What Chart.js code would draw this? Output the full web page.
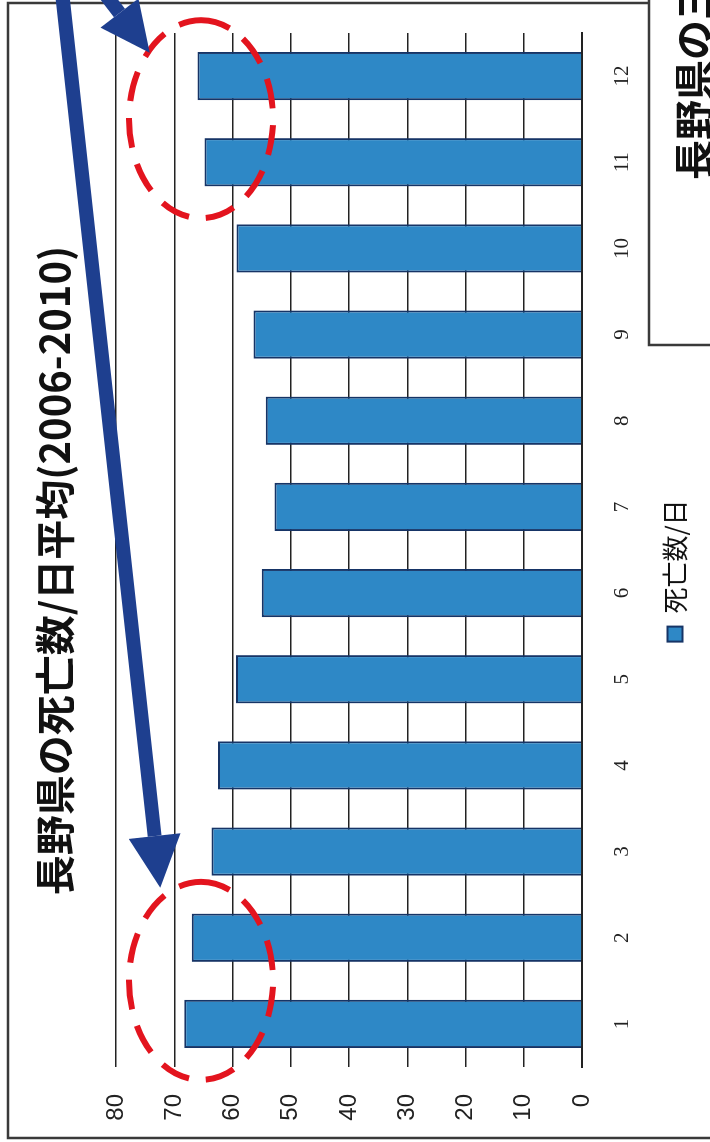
<!DOCTYPE html>
<html>
<head>
<meta charset="utf-8">
<script src="https://cdn.jsdelivr.net/npm/chart.js@4/dist/chart.umd.min.js"></script>
<style>
  body { margin: 0; background: #fff; }
  #page { position: relative; width: 710px; height: 1142px; overflow: hidden; background: #fff; }
  /* the chart is drawn upright, then turned a quarter left like the scan */
  #wrap { position: absolute; left: 0; top: 0; width: 1142px; height: 710px;
          transform-origin: 0 0; transform: translate(0, 1142px) rotate(-90deg); }
  canvas { display: block; }
</style>
</head>
<body>
<div id="page"><div id="wrap"><canvas id="myChart" width="1142" height="710"></canvas></div></div>
<script>
// data
const months = ["1", "2", "3", "4", "5", "6", "7", "8", "9", "10", "11", "12"];
const deathsPerDay = [68.3, 67.0, 63.6, 62.5, 59.4, 55.0, 52.8, 54.3, 56.4, 59.3, 64.8, 66.0];
const valueTicks = [0, 10, 20, 30, 40, 50, 60, 70, 80];
const seriesName = "死亡数/日";
const chartTitle = "長野県の死亡数/日平均(2006-2010)";
const sideNote = "長野県の三";

// frame of the sheet + neighbouring box
const sheetFrame = {
  id: "sheetFrame",
  afterLayout(chart) {
    // legend and title sit a little off centre in the scan
    chart.legend.left += 17;
    chart.legend.right += 17;
    chart.titleBlock.left += 17;
    chart.titleBlock.right += 17;
  },
  beforeDraw(chart) {
    const ctx = chart.ctx;
    ctx.save();
    ctx.fillStyle = "#fff";
    ctx.fillRect(0, 0, chart.width, chart.height);
    ctx.strokeStyle = "#3a3a3a";
    ctx.lineWidth = 2.5;
    ctx.beginPath();
    ctx.moveTo(4, 710);
    ctx.lineTo(4, 8);
    ctx.lineTo(1139, 8);
    ctx.lineTo(1139, 649);
    ctx.moveTo(1142, 649);
    ctx.lineTo(797, 649);
    ctx.lineTo(797, 710);
    ctx.stroke();
    ctx.fillStyle = "#111";
    ctx.font = "bold 40px 'Noto Sans CJK JP'";
    ctx.textBaseline = "middle";
    ctx.fillText(sideNote, 962, 694);
    ctx.restore();
  },
};

function arrow(ctx, x1, y1, x2, y2, headLen, headHalf, width) {
  const ang = Math.atan2(y2 - y1, x2 - x1);
  const bx = x2 - Math.cos(ang) * headLen;
  const by = y2 - Math.sin(ang) * headLen;
  ctx.lineWidth = width;
  ctx.beginPath();
  ctx.moveTo(x1, y1);
  ctx.lineTo(bx, by);
  ctx.stroke();
  ctx.beginPath();
  ctx.moveTo(x2, y2);
  ctx.lineTo(bx + Math.sin(ang) * headHalf, by - Math.cos(ang) * headHalf);
  ctx.lineTo(bx - Math.sin(ang) * headHalf, by + Math.cos(ang) * headHalf);
  ctx.closePath();
  ctx.fill();
}

// red dashed circles + blue arrows drawn on top
const marks = {
  id: "marks",
  afterDatasetsDraw(chart) {
    const ctx = chart.ctx;
    const xs = chart.scales.x;
    const ys = chart.scales.y;
    ctx.save();
    ctx.strokeStyle = "#e3141e";
    ctx.lineWidth = 6;
    ctx.setLineDash([30, 17]);
    [0.5, 10.5].forEach((idx) => {
      ctx.beginPath();
      ctx.ellipse(xs.getPixelForValue(idx), ys.getPixelForValue(65.4), 99, 72, 0, 0, Math.PI * 2);
      ctx.stroke();
    });
    ctx.setLineDash([]);
    ctx.strokeStyle = "#1e3f8f";
    ctx.fillStyle = "#1e3f8f";
    arrow(ctx, xs.getPixelForValue(12.3), ys.getPixelForValue(89.8),
      xs.getPixelForValue(1.58), ys.getPixelForValue(72.4), 52, 26, 14);
    arrow(ctx, xs.getPixelForValue(12.05), ys.getPixelForValue(83.0),
      xs.getPixelForValue(11.27), ys.getPixelForValue(74.2), 50, 24, 14);
    ctx.restore();
  },
};

let ctx = document.getElementById("myChart").getContext("2d");

const myChart = new Chart(ctx, {
  type: "bar",
  data: {
    labels: months,
    datasets: [
      {
        label: seriesName,
        data: deathsPerDay,
        backgroundColor: "rgb(46, 136, 198)",
        borderColor: "rgb(22, 52, 102)",
        borderWidth: 2,
        barPercentage: 0.56,
        categoryPercentage: 1,
      },
    ],
  },
  options: {
    responsive: false,
    animation: false,
    devicePixelRatio: 1,
    layout: { padding: { left: 0, right: 33, top: 0, bottom: 12 } },
    plugins: {
      title: {
        display: true,
        text: chartTitle,
        color: "#111",
        font: { family: "'Noto Sans CJK JP'", size: 40, weight: "bold" },
        padding: { top: 31, bottom: 37 },
      },
      legend: {
        position: "bottom",
        labels: {
          color: "#111",
          boxWidth: 15,
          boxHeight: 15,
          padding: 10,
          font: { family: "'Noto Sans CJK JP'", size: 26 },
        },
      },
      tooltip: { enabled: false },
    },
    scales: {
      x: {
        grid: { display: false, drawTicks: false },
        border: { display: true, color: "#222", width: 2 },
        ticks: {
          color: "#222",
          padding: 28,
          font: { family: "'Liberation Serif'", size: 21 },
        },
        afterFit(scale) { scale.height = 70; },
      },
      y: {
        min: 0,
        max: 80,
        afterBuildTicks(scale) { scale.ticks = valueTicks.map((v) => ({ value: v })); },
        grid: { color: "#222", lineWidth: 1.5, drawTicks: false },
        border: { display: false },
        ticks: {
          color: "#222",
          padding: 27,
          font: { family: "'Liberation Sans'", size: 24 },
        },
        afterFit(scale) { scale.width = 75; },
      },
    },
  },
  plugins: [sheetFrame, marks],
});
</script>
</body>
</html>
